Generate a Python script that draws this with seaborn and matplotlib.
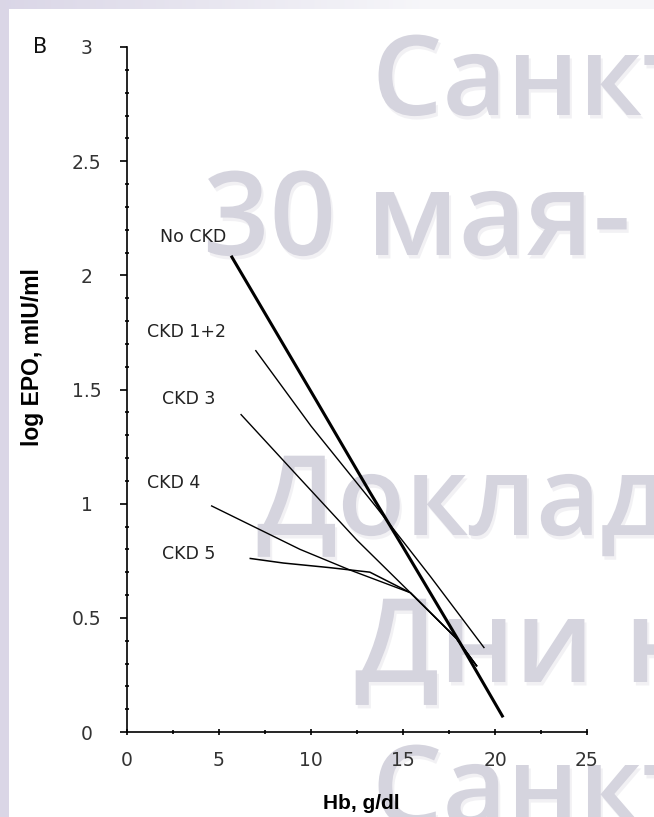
import numpy as np
import pandas as pd
import matplotlib
matplotlib.use("Agg")
import matplotlib.pyplot as plt
import matplotlib.patheffects as pe
import seaborn as sns
from matplotlib.ticker import MultipleLocator

# ---------------- data ----------------
groups = ["No CKD", "CKD 1+2", "CKD 3", "CKD 4", "CKD 5"]

no_ckd_hb = [5.7, 10.3, 13.2, 15.0, 18.1, 20.4]
no_ckd_epo = [2.08, 1.45, 1.05, 0.81, 0.39, 0.07]

ckd12_hb = [7.0, 10.0, 13.5, 16.5, 19.4]
ckd12_epo = [1.67, 1.34, 0.99, 0.68, 0.37]

ckd3_hb = [6.2, 9.4, 12.5, 15.4, 17.9, 19.0]
ckd3_epo = [1.39, 1.11, 0.84, 0.61, 0.41, 0.29]

ckd4_hb = [4.6, 9.4, 12.1, 15.4, 17.9, 19.0]
ckd4_epo = [0.99, 0.80, 0.71, 0.61, 0.41, 0.29]

ckd5_hb = [6.7, 8.5, 11.0, 13.2, 15.4, 17.9, 19.0]
ckd5_epo = [0.76, 0.74, 0.72, 0.70, 0.61, 0.41, 0.29]

x_ticks = [0, 5, 10, 15, 20, 25]
y_ticks = [0, 0.5, 1, 1.5, 2, 2.5, 3]
y_tick_labels = ["0", "0.5", "1", "1.5", "2", "2.5", "3"]

label_x = [1.8, 1.1, 1.9, 1.1, 1.9]
label_y = [2.17, 1.75, 1.46, 1.09, 0.78]

watermark_lines = ["Санкт", "30 мая-", "Доклад", "Дни н", "Санкт"]

# ---------------- table ----------------
series = [(no_ckd_hb, no_ckd_epo), (ckd12_hb, ckd12_epo), (ckd3_hb, ckd3_epo),
          (ckd4_hb, ckd4_epo), (ckd5_hb, ckd5_epo)]
rows = []
for g, (xs, ys) in zip(groups, series):
    for i, (xv, yv) in enumerate(zip(xs, ys)):
        rows.append({"group": g, "order": i, "Hb": xv, "logEPO": yv})
df = pd.DataFrame(rows)

# ---------------- figure ----------------
W, H = 654, 817
fig = plt.figure(figsize=(W / 100, H / 100), dpi=100)

# background with lavender frame
bg = fig.add_axes([0, 0, 1, 1], zorder=-5)
img = np.ones((H, W, 3))
lav = np.array([0.855, 0.84, 0.905])
light = np.array([0.965, 0.965, 0.978])
img[:, :9, :] = lav
t = np.clip(np.arange(W) / 420.0, 0, 1)[:, None]
img[:9, :, :] = lav * (1 - t) + light * t
bg.imshow(img, extent=[0, W, H, 0], aspect="auto", interpolation="bilinear")
bg.set_xlim(0, W)
bg.set_ylim(H, 0)
bg.axis("off")

wm_x = [372, 203, 257, 355, 372]
wm_base = [115, 255, 535, 682, 825]
wm_size = [80, 84, 80, 84, 80]
shadow = [pe.withSimplePatchShadow(offset=(1.5, -2.5), shadow_rgbFace="#c4c3ce", alpha=0.22)]
for txt, xx, yy, sz in zip(watermark_lines, wm_x, wm_base, wm_size):
    bg.text(xx, yy, txt, fontsize=sz, family=["Open Sans", "DejaVu Sans"],
            fontweight="semibold", color="#d5d4de", ha="left", va="baseline",
            clip_on=True, path_effects=shadow)

# main axes
ax = fig.add_axes([127 / W, 1 - 732 / H, 460 / W, 685 / H])
ax.patch.set_alpha(0)

palette = {g: "black" for g in groups}
sizes = {"No CKD": 2.2, "CKD 1+2": 1.0, "CKD 3": 1.0, "CKD 4": 1.0, "CKD 5": 1.1}
sns.lineplot(data=df, x="Hb", y="logEPO", hue="group", size="group",
             palette=palette, sizes=sizes, hue_order=groups, size_order=groups,
             estimator=None, sort=False, units="group", legend=False, ax=ax)

ax.set_xlim(0, 25)
ax.set_ylim(0, 3)
sns.despine(ax=ax)
ax.spines["left"].set_linewidth(1.2)
ax.spines["bottom"].set_linewidth(1.2)

ax.set_xticks(x_ticks)
ax.set_xticklabels([str(v) for v in x_ticks])
ax.xaxis.set_minor_locator(MultipleLocator(2.5))
ax.set_yticks(y_ticks)
ax.set_yticklabels(y_tick_labels)
ax.yaxis.set_minor_locator(MultipleLocator(0.1))

ax.tick_params(axis="y", which="major", direction="out", length=5, width=1.2,
               pad=24, labelsize=13.5, labelcolor="#333333")
ax.tick_params(axis="y", which="minor", direction="inout", length=3, width=1.2)
ax.tick_params(axis="x", which="major", direction="inout", length=4, width=1.2,
               pad=12, labelsize=13.5, labelcolor="#333333")
ax.tick_params(axis="x", which="minor", direction="inout", length=3, width=1.2)
for lab in ax.get_yticklabels():
    lab.set_horizontalalignment("center")
    lab.set_family("DejaVu Sans")
for lab in ax.get_xticklabels():
    lab.set_family("DejaVu Sans")

ax.set_xlabel("Hb, g/dl", fontsize=15, fontweight="bold",
              family=["Liberation Sans", "DejaVu Sans"])
ax.set_ylabel("log EPO, mIU/ml", fontsize=16.5, fontweight="bold",
              family=["Liberation Sans", "DejaVu Sans"])
ax.xaxis.set_label_coords(0.51, -0.09)
ax.yaxis.set_label_coords(-0.18, 0.547)

for g, lx, ly in zip(groups, label_x, label_y):
    ax.text(lx, ly, g, fontsize=12.5, family="DejaVu Sans", color="#222222",
            ha="left", va="center")

fig.text(33 / W, 1 - 47 / H, "B", fontsize=15, family="DejaVu Sans",
         color="#111111", ha="left", va="center")

fig.savefig("out.png", dpi=100)
